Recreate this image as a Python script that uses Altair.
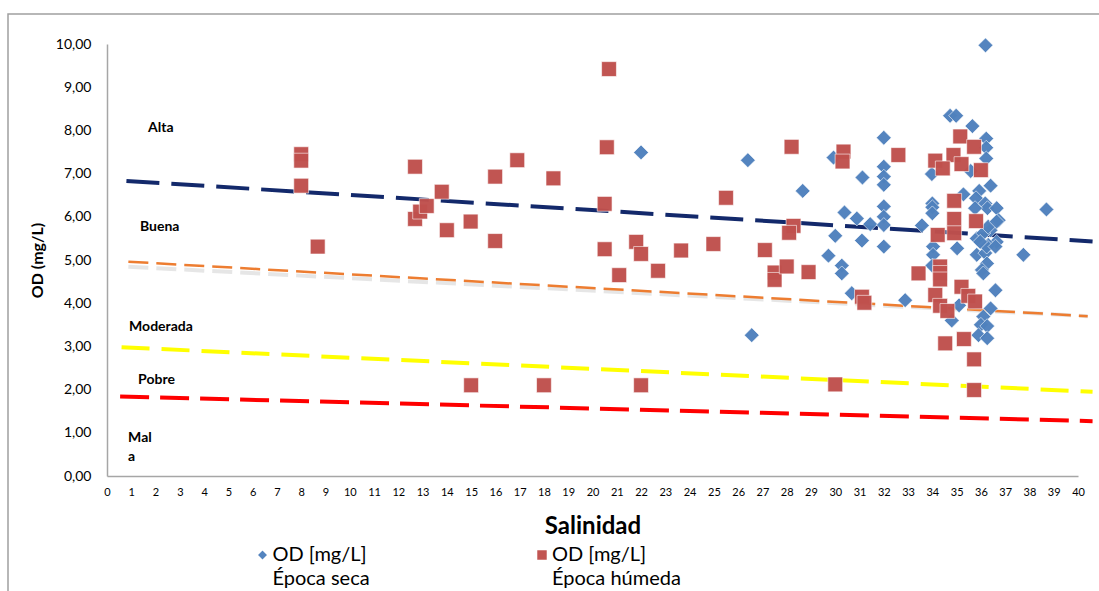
import altair as alt
import pandas as pd

# ---- data ----
seca_x = [22.0, 26.4, 26.56, 28.66, 29.72, 29.93, 30.0, 30.27, 30.27, 30.38, 30.68, 30.89,
          31.1, 31.12, 31.44,
          32.0, 32.0, 32.0, 32.0, 32.0, 32.0, 32.0, 32.0,
          32.88, 33.57, 33.98, 34.0, 34.0, 34.0, 34.03, 34.03, 34.0,
          34.73, 34.98, 35.65, 36.22, 36.22, 36.22, 35.58, 36.4, 35.93, 35.28, 35.8,
          36.18, 36.27, 36.65, 35.76, 36.73, 38.7, 36.19,
          35.02, 35.83, 36.18, 36.25, 36.04, 36.1, 37.75, 36.65, 36.3, 35.83, 36.24,
          36.4, 36.1, 36.6, 36.4, 34.8, 36.1, 36.0, 36.26, 35.9, 36.26, 35.1,
          36.3, 36.65, 35.97, 36.6]
seca_y = [7.49, 7.31, 3.26, 6.60, 5.10, 7.37, 5.56, 4.87, 4.69, 6.10, 4.23, 5.96,
          5.45, 6.91, 5.83,
          7.83, 7.16, 6.93, 6.74, 6.24, 6.00, 5.81, 5.31,
          4.07, 5.80, 6.99, 6.31, 6.22, 6.08, 5.31, 5.12, 4.87,
          8.34, 8.34, 8.10, 7.81, 7.60, 7.35, 7.06, 6.72, 6.60, 6.52, 6.43,
          6.31, 6.20, 6.20, 6.20, 5.92, 6.17, 9.97,
          5.27, 5.12, 5.16, 4.92, 4.77, 4.69, 5.12, 5.42, 5.35, 5.50, 5.31,
          5.69, 5.62, 4.30, 3.88, 3.60, 3.69, 3.50, 3.47, 3.26, 3.19, 3.95,
          5.77, 5.89, 5.42, 5.31]

humeda_x = [8.0, 8.0, 8.0, 8.68, 12.69, 12.69, 12.9, 13.17, 13.79, 14.0, 14.98, 15.0,
            15.99, 15.99, 16.9, 18.0, 18.39, 20.59, 20.5, 20.5, 20.68, 21.1, 21.8, 22.0,
            22.0, 22.7, 23.65, 24.98, 25.5, 27.1, 27.5, 27.5, 28.0, 28.9, 28.2, 28.28,
            28.1, 30.34, 30.3, 31.1, 31.2, 30.0, 32.6,
            35.15, 35.72, 34.87, 34.12, 35.2, 34.43, 36.0, 34.9, 34.9, 34.9, 35.8,
            34.22, 33.43, 34.32, 34.32, 34.32, 34.12, 34.32, 34.62, 35.2, 35.48,
            35.76, 34.53, 35.3, 35.72, 35.72]
humeda_y = [7.45, 7.30, 6.72, 5.31, 7.16, 5.95, 6.12, 6.25, 6.58, 5.69, 5.89, 2.10,
            6.93, 5.44, 7.31, 2.10, 6.89, 7.61, 6.30, 5.25, 9.42, 4.65, 5.42, 5.14,
            2.10, 4.75, 5.22, 5.37, 6.44, 5.23, 4.71, 4.54, 4.85, 4.72, 7.62, 5.79,
            5.63, 7.51, 7.28, 4.15, 4.01, 2.12, 7.43,
            7.86, 7.62, 7.43, 7.30, 7.22, 7.12, 7.08, 6.37, 5.95, 5.62, 5.90,
            5.58, 4.69, 4.85, 4.70, 4.55, 4.19, 3.94, 3.82, 4.38, 4.17,
            4.04, 3.07, 3.17, 2.70, 1.99]

series_names = ["seca", "humeda"]
series_colors = ["#4F81BD", "#C0504D"]
series_shapes = ["diamond", "square"]

x_ticks = list(range(0, 41))
y_ticks = list(range(0, 11))

# dashed trend/threshold lines
trend_names = ["alta", "buena", "moderada", "pobre"]
trend_x1 = [0.8, 0.88, 0.6, 0.54]
trend_y1 = [6.83, 4.96, 2.98, 1.84]
trend_x2 = [40.6, 40.4, 40.6, 40.6]
trend_y2 = [5.43, 3.70, 1.95, 1.27]
trend_colors = ["#13296B", "#ED7D31", "#FFFF00", "#FF0000"]
trend_widths = [4, 2.5, 4, 4]
trend_dashes = [[33, 12], [20, 8], [28, 12], [29, 11]]

# class labels
label_text = ["Alta", "Buena", "Moderada", "Pobre", "Mal", "a"]
label_x = [1.69, 1.36, 0.91, 1.28, 0.87, 0.87]
label_y = [8.06, 5.76, 3.45, 2.22, 0.88, 0.44]

FONT = "Lato"

pts = pd.concat([
    pd.DataFrame({"sal": seca_x, "od": seca_y, "serie": "seca"}),
    pd.DataFrame({"sal": humeda_x, "od": humeda_y, "serie": "humeda"}),
], ignore_index=True)

xscale = alt.Scale(domain=[0, 40], nice=False, zero=False)
yscale = alt.Scale(domain=[0, 10], nice=False)

xaxis = alt.Axis(values=x_ticks, title="Salinidad", titleFontSize=24, titleFontWeight="bold",
                 titleFont=FONT, labelFont=FONT, labelFontSize=11, labelColor="#000",
                 titleColor="#000", labelOverlap=False, labelFlush=False,
                 ticks=False, grid=False, labelPadding=10, titlePadding=17,
                 domainColor="#a6a6a6", domainWidth=1.5, labelAngle=0)
yaxis = alt.Axis(values=y_ticks, title="OD (mg/L)", titleFontSize=16, titleFontWeight="bold",
                 titleFont=FONT, labelFont=FONT, labelFontSize=14, labelColor="#000",
                 titleColor="#000", labelOverlap=False, labelFlush=False,
                 labelExpr="replace(format(datum.value, '.2f'), '.', ',')",
                 ticks=False, grid=False, labelPadding=16, titlePadding=10,
                 domainColor="#a6a6a6", domainWidth=1.5)


def X(field):
    return alt.X(field, type="quantitative", scale=xscale, axis=xaxis)


def Y(field):
    return alt.Y(field, type="quantitative", scale=yscale, axis=yaxis)


legend_expr = ("datum.value == 'seca' ? ['OD [mg/L]', 'Época seca'] : "
               "['OD [mg/L]', 'Época húmeda']")

points = alt.Chart(pts).mark_point(filled=True, size=220, opacity=0.97,
                                   stroke="white", strokeWidth=0.6).encode(
    x=X("sal"),
    y=Y("od"),
    color=alt.Color("serie:N", scale=alt.Scale(domain=series_names, range=series_colors),
                    legend=alt.Legend(title=None, orient="none", legendX=145.5, legendY=501,
                                      direction="horizontal", columns=2,
                                      labelExpr=legend_expr, labelFont=FONT,
                                      labelFontSize=20, labelColor="#000",
                                      symbolSize=120, columnPadding=130.5,
                                      gridAlign="all", labelBaseline="middle",
                                      labelOffset=0)),
    shape=alt.Shape("serie:N", scale=alt.Scale(domain=series_names, range=series_shapes),
                    legend=None),
    order=alt.Order("ord:Q"),
).transform_calculate(ord="datum.serie == 'seca' ? 0 : 1")

layers = []

trend_df = pd.DataFrame({"name": trend_names, "x1": trend_x1, "y1": trend_y1,
                         "x2": trend_x2, "y2": trend_y2})

# soft shadow under the orange line
shadow = alt.Chart(trend_df[trend_df["name"] == "buena"]).mark_rule(
    color="#c8c8c8", strokeWidth=4, strokeDash=trend_dashes[1], opacity=0.45, yOffset=5).encode(
    x=X("x1"), y=Y("y1"), x2="x2:Q", y2="y2:Q")
layers.append(shadow)

for i, n in enumerate(trend_names):
    layers.append(alt.Chart(trend_df[trend_df["name"] == n]).mark_rule(
        color=trend_colors[i], strokeWidth=trend_widths[i], strokeDash=trend_dashes[i]).encode(
        x=X("x1"), y=Y("y1"), x2="x2:Q", y2="y2:Q"))

lab_df = pd.DataFrame({"t": label_text, "x": label_x, "y": label_y})
labels = alt.Chart(lab_df).mark_text(align="left", baseline="middle", font=FONT,
                                     fontSize=14, fontWeight="bold", color="#000").encode(
    x=X("x"), y=Y("y"), text="t:N")
layers.append(labels)
layers.append(points)

# outer chart-area frame (decoration only)
frame = alt.Chart(pd.DataFrame({"k": [0]})).mark_rect(
    fill="transparent", stroke="#a0a0a0", strokeWidth=1.5).encode(
    x=alt.value(-99), x2=alt.value(1200), y=alt.value(-30), y2=alt.value(700))
layers.append(frame)

chart = alt.layer(*layers).properties(
    width=971, height=432,
    autosize=alt.AutoSizeParams(type="none"),
    padding={"left": 107, "top": 44, "right": 21, "bottom": 115},
    background="white",
).configure(
    style={"guide-label": {"lineHeight": 24}},
).configure_view(stroke=None)

chart.save("out.html", embed_options={"renderer": "svg", "actions": False})
